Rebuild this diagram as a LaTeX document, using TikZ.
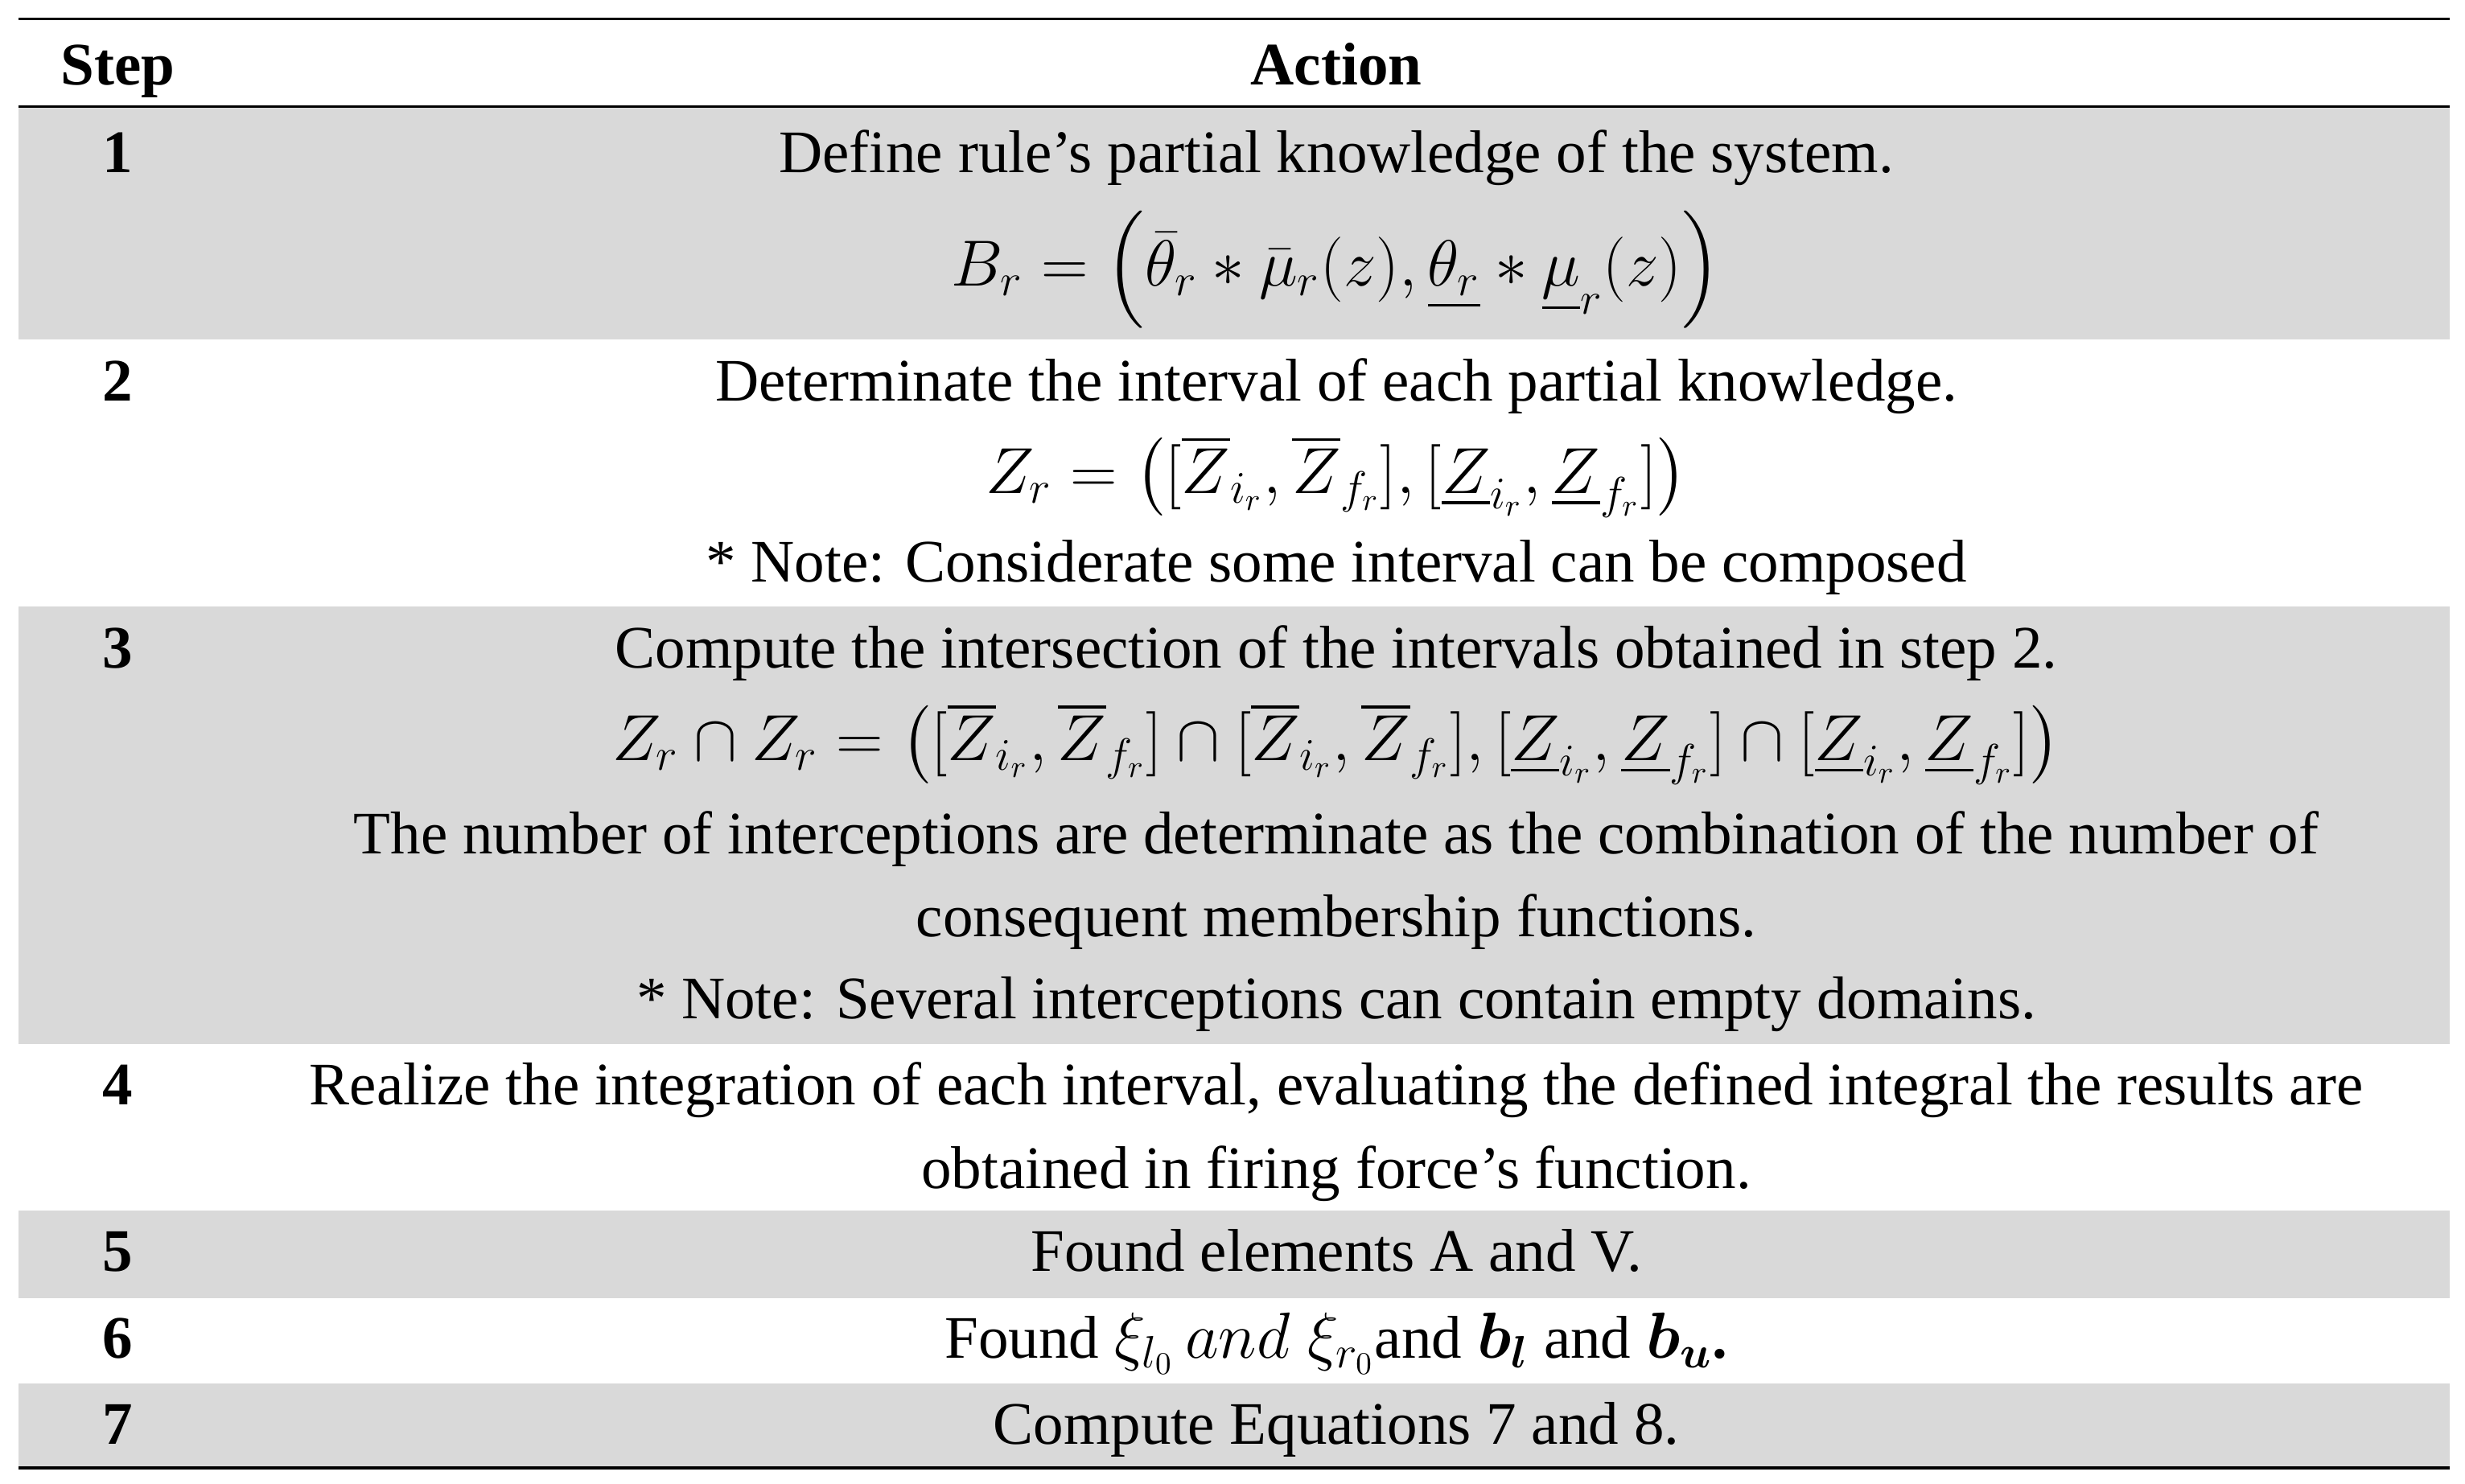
\documentclass[tikz,border=0pt]{standalone}
\usepackage{amsmath,bm}
\usepackage{fontspec}
\setmainfont{Liberation Serif}
\definecolor{rowgray}{HTML}{D9D9D9}
\begin{document}
\begin{tikzpicture}[x=0.5pt,y=-0.5pt,
  txt/.style={font=\fontsize{19.2}{22}\selectfont, inner sep=0pt, anchor=base},
  hd/.style={txt, font=\fontsize{19.2}{22}\selectfont\bfseries}]
\useasboundingbox (0,0) rectangle (1568,944);
\fill[rowgray] (12,68) rectangle (1558,216);
\fill[rowgray] (12,386) rectangle (1558,664);
\fill[rowgray] (12,770) rectangle (1558,826);
\fill[rowgray] (12,880) rectangle (1558,934);
\draw[line width=1pt] (12,12) -- (1558,12);
\draw[line width=0.8pt] (12,68) -- (1558,68);
\draw[line width=1pt] (12,934) -- (1558,934);
\node[hd] (h1) at (75,54) {Step};
\node[hd] (h2) at (850,54) {Action};
\node[hd] (s1) at (75,110) {1};
\node[txt] (a1) at (850,110) {Define rule’s partial knowledge of the system.};
\node[txt] (f1) at (850,182) {$B_r=\left(\bar{\theta}_r*\bar{\mu}_r(z),\underline{\theta_r}*\underline{\mu}_r(z)\right)$\vphantom{$\Big($}};
\node[hd] (s2) at (75,255) {2};
\node[txt] (a2) at (850,255) {Determinate the interval of each partial knowledge.};
\node[txt] (f2) at (850,314) {$Z_r=\big([\overline{Z}_{i_r},\overline{Z}_{f_r}],[\underline{Z}_{i_r},\underline{Z}_{f_r}]\big)$};
\node[txt] (n2) at (850,370) {* Note: Considerate some interval can be composed};
\node[hd] (s3) at (75,425) {3};
\node[txt] (a3) at (850,425) {Compute the intersection of the intervals obtained in step 2.};
\node[txt] (f3) at (850,484) {$Z_r\cap Z_r=\big([\overline{Z}_{i_r},\overline{Z}_{f_r}]\cap[\overline{Z}_{i_r},\overline{Z}_{f_r}],[\underline{Z}_{i_r},\underline{Z}_{f_r}]\cap[\underline{Z}_{i_r},\underline{Z}_{f_r}]\big)$};
\node[txt] (b3) at (850,543) {The number of interceptions are determinate as the combination of the number of};
\node[txt] (c3) at (850,596) {consequent membership functions.};
\node[txt] (n3) at (850,648) {* Note: Several interceptions can contain empty domains.};
\node[hd] (s4) at (75,703) {4};
\node[txt] (a4) at (850,703) {Realize the integration of each interval, evaluating the defined integral the results are};
\node[txt] (b4) at (850,756) {obtained in firing force’s function.};
\node[hd] (s5) at (75,809) {5};
\node[txt] (a5) at (850,809) {Found elements A and V.};
\node[hd] (s6) at (75,864) {6};
\node[txt] (a6) at (850,864) {Found $\xi_{l_0}\,and\;\xi_{r_0}$and $\boldsymbol{b_l}$ and $\boldsymbol{b_u}$\textbf{.}};
\node[hd] (s7) at (75,919) {7};
\node[txt] (a7) at (850,919) {Compute Equations 7 and 8.};
\end{tikzpicture}
\end{document}
